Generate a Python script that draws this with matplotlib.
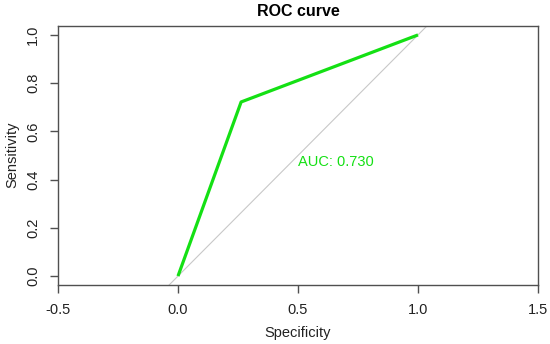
import matplotlib as mpl
from matplotlib import pyplot as plt

mpl.rcParams["font.family"] = ["Liberation Sans", "DejaVu Sans"]

# ROC points
specificity = [0.0, 0.263, 1.0]
sensitivity = [0.0, 0.722, 1.0]
auc_label = "AUC: 0.730"
x_ticks = [-0.5, 0.0, 0.5, 1.0, 1.5]
y_ticks = [0.0, 0.2, 0.4, 0.6, 0.8, 1.0]

W, H = 550, 344
fig = plt.figure(figsize=(W / 100, H / 100), dpi=100)
ax = fig.add_axes([58 / W, 1 - 285 / H, 480 / W, 259 / H])

ax.axline((0, 0), (1, 1), color="#c8c8c8", lw=0.8, zorder=1)
ax.plot(specificity, sensitivity, color="#14e014", lw=2.3, zorder=2,
        solid_capstyle="butt")
ax.text(0.5, 0.5, auc_label, color="#14e014", fontsize=10.5,
        ha="left", va="top")

ax.set_xlim(-0.5, 1.5)
ax.set_ylim(-0.037, 1.037)
ax.set_xticks(x_ticks)
ax.set_xticklabels([f"{t:.1f}" for t in x_ticks])
ax.set_yticks(y_ticks)
ax.set_yticklabels([f"{t:.1f}" for t in y_ticks], rotation=90, va="center")

for s in ax.spines.values():
    s.set_color("#505050")
    s.set_linewidth(1.0)
ax.tick_params(direction="out", length=6, width=1.0, color="#505050",
               labelsize=10.5, labelcolor="#222222", pad=7)

fig.text(298 / W, 1 - 12 / H, "ROC curve", ha="center", va="center",
         fontsize=11.5, fontweight="bold")
fig.text(298 / W, 1 - 333 / H, "Specificity", ha="center", va="center",
         fontsize=10.5, color="#222222")
fig.text(12 / W, 1 - 155 / H, "Sensitivity", ha="center", va="center",
         rotation=90, fontsize=10.5, color="#222222")

fig.savefig("out.png", dpi=100)
plt.close(fig)
